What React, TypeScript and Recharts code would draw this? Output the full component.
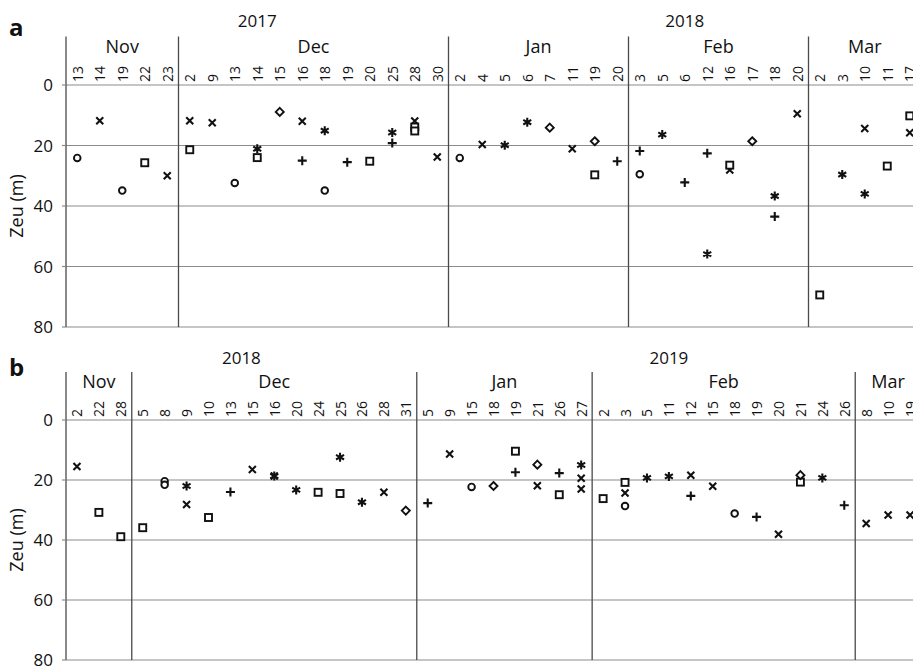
import React from 'react';
import { ScatterChart, Scatter, XAxis, YAxis, CartesianGrid, ReferenceLine } from 'recharts';

// panel a: Nov 2017 - Mar 2018
const aMonths = ['Nov', 'Dec', 'Jan', 'Feb', 'Mar'];
const aDays = [
  [13, 14, 19, 22, 23],
  [2, 9, 13, 14, 15, 16, 18, 19, 20, 25, 28, 30],
  [2, 4, 5, 6, 7, 11, 19, 20],
  [3, 5, 6, 12, 16, 17, 18, 20],
  [2, 3, 10, 11, 17],
];
const aYears = ['2017', '2018'];
const aYearMonths = [2, 3];

const aCircle = [['Nov 13', 24.1], ['Nov 19', 34.9], ['Dec 13', 32.4], ['Dec 18', 34.9], ['Jan 2', 24.1], ['Feb 3', 29.5]];
const aCross = [['Nov 14', 11.8], ['Nov 23', 30.0], ['Dec 2', 11.8], ['Dec 9', 12.5], ['Dec 16', 12.0], ['Dec 28', 11.9], ['Dec 30', 23.8], ['Jan 4', 19.7], ['Jan 11', 21.1], ['Feb 16', 28.1], ['Feb 20', 9.5], ['Mar 10', 14.4], ['Mar 17', 15.8]];
const aSquare = [['Nov 22', 25.7], ['Dec 2', 21.4], ['Dec 14', 24.0], ['Dec 20', 25.2], ['Dec 28', 13.9], ['Dec 28', 15.2], ['Jan 19', 29.7], ['Feb 16', 26.5], ['Mar 2', 69.4], ['Mar 11', 26.8], ['Mar 17', 10.2]];
const aDiamond = [['Dec 15', 8.9], ['Jan 7', 14.1], ['Jan 19', 18.6], ['Feb 17', 18.6]];
const aPlus = [['Dec 16', 25.0], ['Dec 19', 25.5], ['Dec 25', 19.2], ['Jan 20', 25.2], ['Feb 3', 21.8], ['Feb 6', 32.2], ['Feb 12', 22.6], ['Feb 18', 43.5]];
const aStar = [['Dec 14', 21.1], ['Dec 18', 15.1], ['Dec 25', 15.7], ['Jan 5', 19.9], ['Jan 6', 12.3], ['Feb 5', 16.4], ['Feb 12', 55.9], ['Feb 18', 36.7], ['Mar 3', 29.6], ['Mar 10', 36.0]];

// panel b: Nov 2018 - Mar 2019
const bMonths = ['Nov', 'Dec', 'Jan', 'Feb', 'Mar'];
const bDays = [
  [2, 22, 28],
  [5, 8, 9, 10, 13, 15, 16, 20, 24, 25, 26, 28, 31],
  [5, 9, 15, 18, 19, 21, 26, 27],
  [2, 3, 5, 11, 12, 15, 18, 19, 20, 21, 24, 26],
  [8, 10, 19],
];
const bYears = ['2018', '2019'];
const bYearMonths = [2, 3];

const bCircle = [['Dec 8', 20.4], ['Dec 8', 21.6], ['Jan 15', 22.3], ['Feb 3', 28.7], ['Feb 18', 31.2]];
const bCross = [['Nov 2', 15.5], ['Dec 9', 28.2], ['Dec 15', 16.5], ['Dec 16', 18.7], ['Dec 28', 24.1], ['Jan 9', 11.3], ['Jan 21', 21.9], ['Jan 27', 19.4], ['Jan 27', 23.0], ['Feb 3', 24.3], ['Feb 12', 18.4], ['Feb 15', 22.1], ['Feb 20', 38.1], ['Mar 8', 34.5], ['Mar 10', 31.7], ['Mar 19', 31.7]];
const bSquare = [['Nov 22', 30.8], ['Nov 28', 38.9], ['Dec 5', 35.9], ['Dec 10', 32.5], ['Dec 24', 24.1], ['Dec 25', 24.5], ['Jan 19', 10.4], ['Jan 26', 24.9], ['Feb 2', 26.2], ['Feb 3', 20.8], ['Feb 21', 20.7]];
const bDiamond = [['Dec 31', 30.2], ['Jan 18', 22.0], ['Jan 21', 14.9], ['Feb 21', 18.4]];
const bPlus = [['Dec 13', 24.0], ['Jan 5', 27.7], ['Jan 19', 17.4], ['Jan 26', 17.7], ['Feb 12', 25.3], ['Feb 19', 32.3], ['Feb 26', 28.4]];
const bStar = [['Dec 9', 22.0], ['Dec 16', 18.7], ['Dec 20', 23.3], ['Dec 25', 12.4], ['Dec 26', 27.4], ['Jan 27', 15.0], ['Feb 5', 19.3], ['Feb 11', 18.8], ['Feb 24', 19.3]];

const yTicks = [0, 20, 40, 60, 80];
const FONT = '"Open Sans", sans-serif';
const INK = '#111';

type Kind = 'circle' | 'cross' | 'square' | 'diamond' | 'plus' | 'star';

const Marker = ({ cx, cy, kind }: { cx: number; cy: number; kind: Kind }) => {
  if (cx == null || cy == null) return null;
  const sw = 1.9;
  switch (kind) {
    case 'circle':
      return <circle cx={cx} cy={cy} r={3.3} fill="#fff" stroke={INK} strokeWidth={sw} />;
    case 'square':
      return <rect x={cx - 3.5} y={cy - 3.5} width={7} height={7} fill="#fff" stroke={INK} strokeWidth={sw} />;
    case 'diamond':
      return <path d={`M${cx},${cy - 4}L${cx + 4},${cy}L${cx},${cy + 4}L${cx - 4},${cy}Z`} fill="#fff" stroke={INK} strokeWidth={sw} />;
    case 'cross':
      return <path d={`M${cx - 3.5},${cy - 3.5}L${cx + 3.5},${cy + 3.5}M${cx - 3.5},${cy + 3.5}L${cx + 3.5},${cy - 3.5}`} stroke={INK} strokeWidth={2.1} />;
    case 'plus':
      return <path d={`M${cx - 4.5},${cy}L${cx + 4.5},${cy}M${cx},${cy - 4.5}L${cx},${cy + 4.5}`} stroke={INK} strokeWidth={2.1} />;
    default:
      return (
        <path
          d={`M${cx},${cy - 4.5}L${cx},${cy + 4.5}M${cx - 4},${cy - 2.3}L${cx + 4},${cy + 2.3}M${cx - 4},${cy + 2.3}L${cx + 4},${cy - 2.3}`}
          stroke={INK}
          strokeWidth={2.1}
        />
      );
  }
};

interface PanelProps {
  letter: string;
  letterTop: number;
  months: string[];
  days: number[][];
  years: string[];
  yearMonths: number[];
  series: [Kind, (string | number)[][]][];
  yearH: number;
  monthH: number;
  dayH: number;
}

const Panel: React.FC<PanelProps> = ({ letter, letterTop, months, days, years, yearMonths, series, yearH, monthH, dayH }) => {
  const cats = months.flatMap((m, mi) => days[mi].map((d) => `${m} ${d}`));
  const dayLabels = days.flat();
  const n = cats.length;
  const starts: number[] = [];
  let acc = 0;
  days.forEach((d) => {
    starts.push(acc);
    acc += d.length;
  });
  const monthCenters = months.map((_, mi) => starts[mi] + (days[mi].length - 1) / 2);
  const bounds = [...starts.map((s) => s - 0.5), n - 0.5];
  let mAcc = 0;
  const yearCenters = years.map((_, yi) => {
    const first = starts[mAcc];
    mAcc += yearMonths[yi];
    const last = mAcc < months.length ? starts[mAcc] - 1 : n - 1;
    return (first + last) / 2;
  });
  const domain: [number, number] = [-0.5, n - 0.5];

  return (
    <div style={{ position: 'relative', width: 930, height: 333 }}>
      <span
        style={{
          position: 'absolute',
          left: 9,
          top: letterTop,
          fontFamily: FONT,
          fontWeight: 700,
          fontSize: 24,
          color: INK,
          lineHeight: 1,
        }}
      >
        {letter}
      </span>
      <ScatterChart width={930} height={333} margin={{ top: 0, right: 9, bottom: 6, left: 0 }}>
        <CartesianGrid vertical={false} stroke="#8c8c8c" strokeWidth={1.2} />
        <XAxis
          type="number"
          dataKey="x"
          orientation="top"
          domain={domain}
          allowDataOverflow
          ticks={cats.map((_, i) => i)}
          interval={0}
          height={dayH}
          axisLine={false}
          tickLine={false}
          tickSize={0}
          tickMargin={0}
          tick={(p: any) => (
            <text
              transform={`translate(${p.x},${p.y - 3}) rotate(-90)`}
              textAnchor="start"
              dominantBaseline="central"
              fontFamily={FONT}
              fontSize={14}
              fill={INK}
            >
              {dayLabels[p.index]}
            </text>
          )}
        />
        <XAxis
          xAxisId="month"
          type="number"
          dataKey="x"
          orientation="top"
          domain={domain}
          allowDataOverflow
          ticks={monthCenters}
          interval={0}
          height={monthH}
          axisLine={false}
          tickLine={false}
          tickSize={0}
          tickMargin={0}
          tick={(p: any) => (
            <text x={p.x} y={p.y - 7} textAnchor="middle" fontFamily={FONT} fontSize={18} fill={INK}>
              {months[p.index]}
            </text>
          )}
        />
        <XAxis
          xAxisId="year"
          type="number"
          dataKey="x"
          orientation="top"
          domain={domain}
          allowDataOverflow
          ticks={yearCenters}
          interval={0}
          height={yearH}
          axisLine={false}
          tickLine={false}
          tickSize={0}
          tickMargin={0}
          tick={(p: any) => (
            <text x={p.x} y={p.y - 6} textAnchor="middle" fontFamily={FONT} fontSize={17} fill={INK}>
              {years[p.index]}
            </text>
          )}
        />
        <YAxis
          type="number"
          dataKey="y"
          reversed
          domain={[0, 80]}
          ticks={yTicks}
          interval={0}
          width={66}
          axisLine={false}
          tickSize={4}
          tickMargin={9}
          tickLine={{ stroke: '#8c8c8c', strokeWidth: 1.2 }}
          tick={{ fontFamily: FONT, fontSize: 17, fill: INK }}
          label={{
            content: (p: any) => {
              const vb = p.viewBox || { y: yearH + monthH + dayH, height: 239 };
              const cy = vb.y + vb.height / 2;
              return (
                <text
                  transform={`translate(16,${cy}) rotate(-90)`}
                  textAnchor="middle"
                  dominantBaseline="central"
                  fontFamily={FONT}
                  fontSize={18}
                  fill={INK}
                >
                  Zeu (m)
                </text>
              );
            },
          }}
        />
        {bounds.map((b) => (
          <ReferenceLine
            key={b}
            segment={[
              { x: b, y: -16 },
              { x: b, y: 80 },
            ]}
            ifOverflow="visible"
            stroke="#4a4a4a"
            strokeWidth={1.3}
          />
        ))}
        {/* hidden anchors so the month and year axes get a domain and draw their ticks */}
        <Scatter
          xAxisId="month"
          data={monthCenters.map((c) => ({ x: c, y: 0 }))}
          isAnimationActive={false}
          shape={() => <g />}
        />
        <Scatter
          xAxisId="year"
          data={yearCenters.map((c) => ({ x: c, y: 0 }))}
          isAnimationActive={false}
          shape={() => <g />}
        />
        {series.map(([kind, pts]) => (
          <Scatter
            key={kind}
            data={pts.map(([d, v]) => ({ x: cats.indexOf(d as string), y: v as number }))}
            isAnimationActive={false}
            shape={(p: any) => <Marker cx={p.cx} cy={p.cy} kind={kind} />}
          />
        ))}
      </ScatterChart>
    </div>
  );
};

const App: React.FC = () => (
  <div
    style={{
      position: 'fixed',
      left: 0,
      top: 0,
      width: 913,
      height: 666,
      overflow: 'hidden',
      background: '#fff',
    }}
  >
    <Panel
      letter="a"
      letterTop={15}
      months={aMonths}
      days={aDays}
      years={aYears}
      yearMonths={aYearMonths}
      series={[
        ['circle', aCircle],
        ['cross', aCross],
        ['square', aSquare],
        ['diamond', aDiamond],
        ['plus', aPlus],
        ['star', aStar],
      ]}
      yearH={33}
      monthH={27}
      dayH={25}
    />
    <Panel
      letter="b"
      letterTop={22}
      months={bMonths}
      days={bDays}
      years={bYears}
      yearMonths={bYearMonths}
      series={[
        ['circle', bCircle],
        ['cross', bCross],
        ['square', bSquare],
        ['diamond', bDiamond],
        ['plus', bPlus],
        ['star', bStar],
      ]}
      yearH={37}
      monthH={25}
      dayH={25}
    />
  </div>
);

export default App;
